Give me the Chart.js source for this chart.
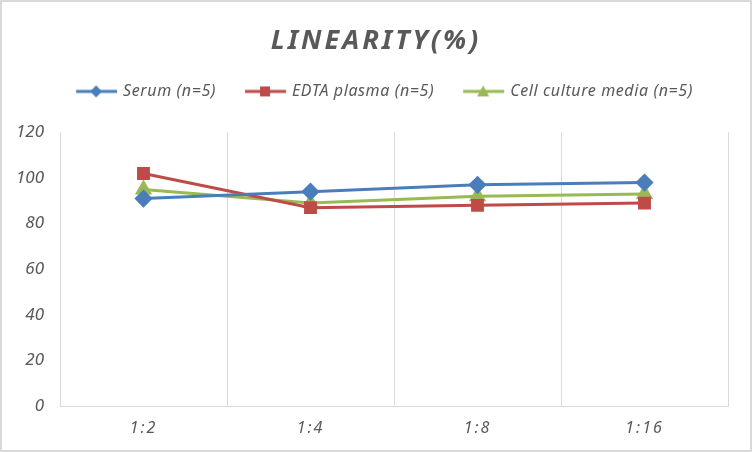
<!DOCTYPE html>
<html>
<head>
<meta charset="utf-8">
<script src="https://cdn.jsdelivr.net/npm/chart.js@4"></script>
<style>
  body { margin: 0; background: #fff; }
  #wrap { width: 752px; height: 452px; box-sizing: border-box; border: 2px solid #d9d9d9; background: #fff; }
  canvas { display: block; }
</style>
</head>
<body>
<div id="wrap"><canvas id="linChart" width="748" height="448"></canvas></div>
<script>
const dilutions = ['1:2', '1:4', '1:8', '1:16'];
const serum = [91, 94, 97, 98];
const edtaPlasma = [102, 87, 88, 89];
const cellMedia = [95, 89, 92, 93];
const seriesNames = ['Serum (n=5)', 'EDTA plasma (n=5)', 'Cell culture media (n=5)'];

const FONT = "'Noto Sans', 'Open Sans', sans-serif";
const GREY = '#595959';
const GRID = '#d9d9d9';

// line+marker swatch for the legend, blank on the left to space the items out
function swatch(color, style) {
    const c = document.createElement('canvas');
    c.width = 62; c.height = 16;
    const g = c.getContext('2d');
    g.strokeStyle = color; g.fillStyle = color; g.lineWidth = 3;
    g.beginPath(); g.moveTo(20, 8); g.lineTo(61, 8); g.stroke();
    const cx = 40;
    g.beginPath();
    if (style === 'diamond') {
        g.moveTo(cx, 2); g.lineTo(cx + 6, 8); g.lineTo(cx, 14); g.lineTo(cx - 6, 8);
    } else if (style === 'square') {
        g.rect(cx - 5, 3, 10, 10);
    } else {
        g.moveTo(cx, 2); g.lineTo(cx + 6, 13); g.lineTo(cx - 6, 13);
    }
    g.closePath(); g.fill();
    return c;
}

const colors = ['#4a7ebb', '#be4b48', '#98b954'];
const swatches = [swatch(colors[0], 'diamond'), swatch(colors[1], 'square'), swatch(colors[2], 'triangle')];

const chart = new Chart(document.getElementById('linChart'), {
    type: 'line',
    data: {
        labels: dilutions,
        datasets: [
            { label: seriesNames[0], data: serum, borderColor: colors[0], backgroundColor: colors[0], pointStyle: 'rectRot', pointRadius: 7, borderWidth: 3 },
            { label: seriesNames[1], data: edtaPlasma, borderColor: colors[1], backgroundColor: colors[1], pointStyle: 'rect', pointRadius: 7, borderWidth: 3 },
            { label: seriesNames[2], data: cellMedia, borderColor: colors[2], backgroundColor: colors[2], pointStyle: 'triangle', pointRadius: 7, borderWidth: 3 }
        ]
    },
    options: {
        responsive: false,
        animation: false,
        layout: { padding: 0 },
        plugins: {
            title: {
                display: true,
                text: 'LINEARITY(%)',
                color: GREY,
                font: { family: FONT, size: 27, weight: 'bold', style: 'italic' },
                padding: { top: 23, bottom: 14 }
            },
            legend: {
                labels: {
                    color: GREY,
                    font: { family: FONT, size: 16, style: 'italic' },
                    usePointStyle: true,
                    pointStyleWidth: 56,
                    padding: 12,
                    generateLabels: (ch) => ch.data.datasets.map((ds, i) => ({
                        text: ds.label,
                        fillStyle: ds.backgroundColor,
                        strokeStyle: ds.borderColor,
                        lineWidth: 0,
                        pointStyle: swatches[i],
                        fontColor: GREY,
                        hidden: false,
                        datasetIndex: i
                    }))
                }
            },
            tooltip: { enabled: false }
        },
        scales: {
            x: {
                offset: true,
                grid: { display: true, offset: true, color: GRID, drawTicks: false },
                border: { display: true, color: GRID },
                ticks: { color: GREY, padding: 13, font: { family: FONT, size: 16, style: 'italic' } },
                afterFit: (s) => { s.height = 44; }
            },
            y: {
                min: 0,
                max: 120,
                grid: { display: false, drawTicks: false },
                border: { display: false },
                ticks: { stepSize: 20, color: GREY, padding: 16, font: { family: FONT, size: 17, style: 'italic' } },
                afterFit: (s) => { s.width = 58; }
            },
            // empty right-hand axis, only keeps a margin right of the plot
            yRight: {
                position: 'right',
                display: true,
                grid: { display: false, drawTicks: false },
                border: { display: false },
                ticks: { display: false },
                afterFit: (s) => { s.width = 22; }
            }
        }
    }
});

const ctx = chart.ctx;

// wider letter spacing for title, legend text and category labels
const titleDraw = chart.titleBlock.draw;
chart.titleBlock.draw = function (area) {
    ctx.letterSpacing = '3px';
    titleDraw.call(this, area);
    ctx.letterSpacing = '0px';
};

const legendFit = chart.legend.fit;
chart.legend.fit = function () {
    ctx.letterSpacing = '0.6px';
    legendFit.call(this);
    ctx.letterSpacing = '0px';
    this.height += 23;
};
const legendDraw = chart.legend.draw;
chart.legend.draw = function () {
    ctx.letterSpacing = '0.6px';
    legendDraw.call(this);
    ctx.letterSpacing = '0px';
};

const xScale = chart.scales.x;
const xDraw = xScale.drawLabels;
xScale.drawLabels = function (area) {
    ctx.letterSpacing = '2px';
    xDraw.call(this, area);
    ctx.letterSpacing = '0px';
};

chart.update();
</script>
</body>
</html>
